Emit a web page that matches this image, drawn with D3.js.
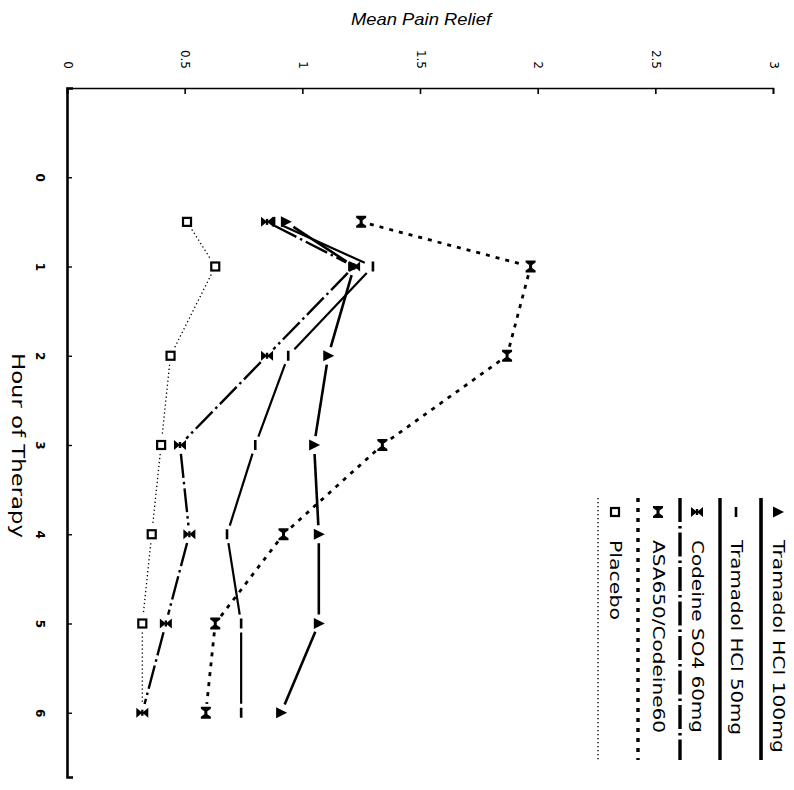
<!DOCTYPE html>
<html><head><meta charset="utf-8">
<script src="https://cdn.jsdelivr.net/npm/d3@7/dist/d3.min.js"></script>
<style>body{margin:0;background:#fff}svg{display:block}</style>
</head><body><svg id="c" width="794" height="790"></svg>
<script>
// ---- data ----
const hours = [0.5, 1, 2, 3, 4, 5, 6];
const tramadol100 = [0.93, 1.22, 1.11, 1.05, 1.07, 1.07, 0.91];
const tramadol50  = [0.88, 1.30, 0.94, 0.80, 0.68, 0.74, 0.74];
const codeine60   = [0.85, 1.22, 0.85, 0.48, 0.52, 0.42, 0.32];
const asaCodeine  = [1.25, 1.97, 1.87, 1.34, 0.92, 0.63, 0.59];
const placebo     = [0.51, 0.63, 0.44, 0.40, 0.36, 0.32, 0.32];
const seriesNames = ["Tramadol HCl 100mg", "Tramadol HCl 50mg", "Codeine SO4 60mg", "ASA650/Codeine60", "Placebo"];
const reliefTicks = [0, 0.5, 1, 1.5, 2, 2.5, 3];
const reliefTickLabels = ["0", "0.5", "1", "1.5", "2", "2.5", "3"];
const hourTicks = [0, 1, 2, 3, 4, 5, 6];
const hourTickLabels = ["0", "1", "2", "3", "4", "5", "6"];
const xTitle = "Mean Pain Relief";
const yTitle = "Hour of Therapy";

// ---- styles ----
const seriesValues = [tramadol100, tramadol50, codeine60, asaCodeine, placebo];
const styles = [
  {marker: "tri",   width: 2.6, dash: null,         legendWidth: 3.6},
  {marker: "bar",   width: 2.2, dash: null,         legendWidth: 3.4},
  {marker: "bow",   width: 2.4, dash: "24,4,2.5,4", legendWidth: 3.4},
  {marker: "hour",  width: 2.8, dash: "4,6",        legendWidth: 3.4},
  {marker: "sq",    width: 1.3, dash: "1.3,2.7",    legendWidth: 1.4}
];

const svg = d3.select("#c");
svg.append("rect").attr("width", 794).attr("height", 790).attr("fill", "#fff");

const x = d3.scaleLinear().domain([0, 3]).range([67, 773]);
const y = d3.scaleLinear().domain([-1, 6.72]).range([88, 777]);

// top axis (Mean Pain Relief)
const gx = svg.append("g").attr("transform", `translate(0,${y(-1)})`)
  .call(d3.axisTop(x).tickValues(reliefTicks).tickSize(-6).tickSizeOuter(-6)
    .tickFormat((d, i) => reliefTickLabels[i]));
gx.select(".domain").attr("stroke-width", 1.6);
gx.selectAll(".tick line").attr("stroke-width", 1.6);
gx.selectAll(".tick text")
  .attr("transform", "rotate(90)")
  .attr("x", -19).attr("y", 0).attr("dy", null)
  .attr("text-anchor", "end").attr("dominant-baseline", "central")
  .attr("font-family", "DejaVu Sans").attr("font-size", 12).attr("fill", "#000");

// left axis (Hour of Therapy)
const gy = svg.append("g").attr("transform", `translate(${x(0)},0)`)
  .call(d3.axisLeft(y).tickValues(hourTicks).tickSize(-5).tickSizeOuter(-6)
    .tickFormat((d, i) => hourTickLabels[i]));
gy.select(".domain").attr("stroke-width", 2.6);
gy.selectAll(".tick line").attr("stroke-width", 1.4);
gy.selectAll(".tick text")
  .attr("transform", "rotate(90)")
  .attr("x", 0).attr("y", 27).attr("dy", null)
  .attr("text-anchor", "middle").attr("dominant-baseline", "central")
  .attr("font-family", "DejaVu Sans").attr("font-size", 12).attr("font-weight", "bold").attr("fill", "#000");

// titles
svg.append("text").attr("x", 421).attr("y", 25)
  .attr("text-anchor", "middle").attr("font-family", "Liberation Sans")
  .attr("font-style", "italic").attr("font-size", 17)
  .attr("textLength", 140).attr("lengthAdjust", "spacingAndGlyphs")
  .text(xTitle);
svg.append("text").attr("transform", `translate(18,${(353 + 538) / 2}) rotate(90)`)
  .attr("text-anchor", "middle").attr("dominant-baseline", "central")
  .attr("font-family", "DejaVu Sans").attr("font-size", 17)
  .attr("textLength", 185).attr("lengthAdjust", "spacingAndGlyphs")
  .text(yTitle);

// markers
function drawMarker(g, type, cx, cy) {
  if (type === "tri") {
    g.append("path").attr("d", `M${cx - 5},${cy - 5.5}L${cx + 6},${cy}L${cx - 5},${cy + 5.5}Z`).attr("fill", "#000");
  } else if (type === "bar") {
    g.append("rect").attr("x", cx - 1.3).attr("y", cy - 5).attr("width", 2.6).attr("height", 10).attr("fill", "#000");
  } else if (type === "bow") {
    g.append("path").attr("d",
      `M${cx - 6},${cy - 5}L${cx},${cy}L${cx - 6},${cy + 5}Z M${cx + 6},${cy - 5}L${cx},${cy}L${cx + 6},${cy + 5}Z`)
      .attr("fill", "#000");
    g.append("rect").attr("x", cx - 1.2).attr("y", cy - 3).attr("width", 2.4).attr("height", 6).attr("fill", "#000");
  } else if (type === "hour") {
    g.append("path").attr("d",
      `M${cx - 5},${cy - 6}H${cx + 5}V${cy - 4}L${cx + 1.5},${cy - 1.5}V${cy + 1.5}L${cx + 5},${cy + 4}V${cy + 6}H${cx - 5}V${cy + 4}L${cx - 1.5},${cy + 1.5}V${cy - 1.5}L${cx - 5},${cy - 4}Z`)
      .attr("fill", "#000");
  } else if (type === "sq") {
    g.append("rect").attr("x", cx - 4).attr("y", cy - 4).attr("width", 8).attr("height", 8)
      .attr("fill", "#fff").attr("stroke", "#000").attr("stroke-width", 2.2);
  }
}

// series lines (with gaps near markers) and markers; placebo drawn first (underneath)
const gap = 9;
const order = [4, 3, 2, 1, 0];
order.forEach(si => {
  const vals = seriesValues[si];
  const st = styles[si];
  const g = svg.append("g");
  const pts = vals.map((v, i) => [x(v), y(hours[i])]);
  for (let i = 0; i < pts.length - 1; i++) {
    const [x0, y0] = pts[i], [x1, y1] = pts[i + 1];
    const dx = x1 - x0, dy = y1 - y0, len = Math.hypot(dx, dy);
    if (len <= 2 * gap) continue;
    const ux = dx / len, uy = dy / len;
    g.append("line")
      .attr("x1", x0 + ux * gap).attr("y1", y0 + uy * gap)
      .attr("x2", x1 - ux * gap).attr("y2", y1 - uy * gap)
      .attr("stroke", "#000").attr("stroke-width", st.width)
      .attr("stroke-dasharray", st.dash);
  }
  pts.forEach((p, i) => {
    // placebo's last point sits under the codeine marker in the reference
    if (si === 4 && i === pts.length - 1) return;
    drawMarker(g, st.marker, p[0], p[1]);
  });
});

// legend
const legLineX = [761, 720, 680, 638, 598];
const legTextX = [778, 736, 697, 658, 615];
const legTextLen = [213, 195, 193, 193, 80];
const leg = svg.append("g");
seriesNames.forEach((name, i) => {
  const st = styles[i];
  leg.append("line").attr("x1", legLineX[i]).attr("x2", legLineX[i])
    .attr("y1", 498).attr("y2", 760)
    .attr("stroke", "#000").attr("stroke-width", st.legendWidth)
    .attr("stroke-dasharray", st.dash);
  drawMarker(leg, st.marker, legTextX[i], 512);
  leg.append("text").attr("transform", `translate(${legTextX[i]},540) rotate(90)`)
    .attr("dominant-baseline", "central")
    .attr("font-family", "DejaVu Sans").attr("font-size", 16)
    .attr("textLength", legTextLen[i]).attr("lengthAdjust", "spacingAndGlyphs")
    .text(name);
});
</script></body></html>
